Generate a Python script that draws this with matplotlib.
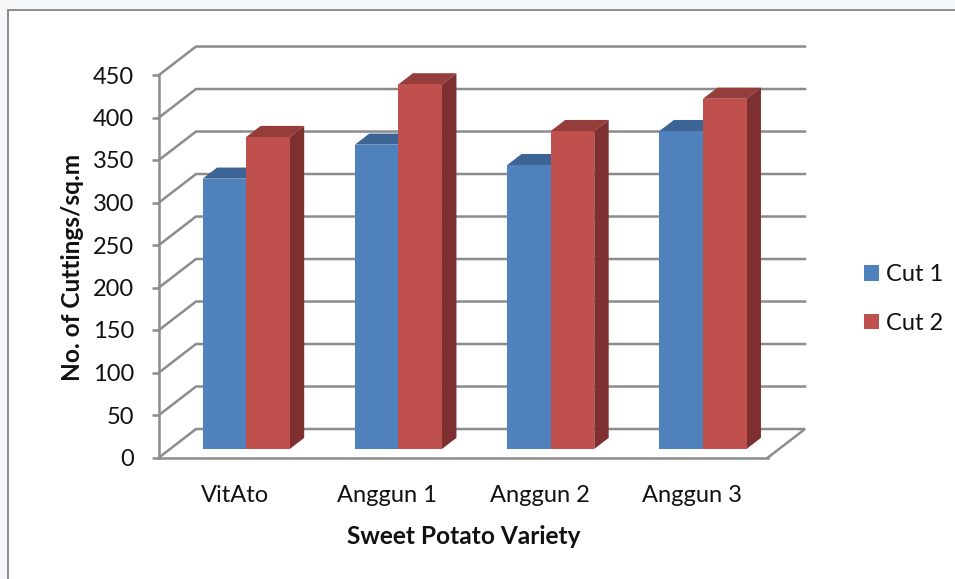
import matplotlib
matplotlib.use('Agg')
import matplotlib.pyplot as plt
from matplotlib.patches import Polygon, Patch, Rectangle

varieties = ['VitAto', 'Anggun 1', 'Anggun 2', 'Anggun 3']
cut_1 = [318, 358, 334, 374]
cut_2 = [367, 429, 374, 412]
y_ticks = [0, 50, 100, 150, 200, 250, 300, 350, 400, 450]

W, H = 955, 579
GREY = '#8C8C8C'
TEXT = '#111111'
BLUE = ('#4F81BD', '#3C6494', '#34557E')
RED = ('#C0504D', '#953D3B', '#7D302F')

# oblique offset of the chart floor, in axis units
DEPTH_X = 37 / 152.25
DEPTH_Y = 33.5
BAR_W = 0.286
BAR_START = 0.30
BAR_DEPTH = 0.39

plt.rcParams['font.family'] = ['Lato', 'DejaVu Sans']

fig = plt.figure(figsize=(W / 100, H / 100), dpi=100, facecolor='#F5F7F9')
fig.add_artist(Rectangle((8 / W, -0.1), 1.1, 1.1 - 10 / H,
                         transform=fig.transFigure, facecolor='white',
                         edgecolor=GREY, linewidth=1.4, zorder=-1))

ax = fig.add_axes([159 / W, 1 - 457.5 / H, 609 / W, 382.5 / H])
ax.patch.set_visible(False)
ax.set_xlim(0, 4)
ax.set_ylim(0, 450)


def draw_bar(x0, value, colors):
    # front face sits part way into the floor, side and top go further back
    x1 = x0 + BAR_W
    bx = BAR_START * DEPTH_X
    by = BAR_START * DEPTH_Y
    dx = BAR_DEPTH * DEPTH_X
    dy = BAR_DEPTH * DEPTH_Y
    base = by
    top = by + value
    faces = [
        ([(x0 + bx, top), (x1 + bx, top), (x1 + bx + dx, top + dy), (x0 + bx + dx, top + dy)], colors[1]),
        ([(x1 + bx, base), (x1 + bx + dx, base + dy), (x1 + bx + dx, top + dy), (x1 + bx, top)], colors[2]),
        ([(x0 + bx, base), (x1 + bx, base), (x1 + bx, top), (x0 + bx, top)], colors[0]),
    ]
    for pts, c in faces:
        ax.add_patch(Polygon(pts, closed=True, facecolor=c, edgecolor='none',
                             clip_on=False, zorder=3))


# walls and floor
for v in y_ticks:
    xs = [0, DEPTH_X, 4 + DEPTH_X]
    ys = [v, v + DEPTH_Y, v + DEPTH_Y]
    if v == 0:
        xs.append(4)
        ys.append(0)
    ax.plot(xs, ys, color=GREY, linewidth=1.8, clip_on=False, zorder=1,
            solid_joinstyle='miter')

for i in range(len(varieties)):
    center = i + 0.5
    draw_bar(center - BAR_W, cut_1[i], BLUE)
    draw_bar(center, cut_2[i], RED)

for side in ['top', 'right']:
    ax.spines[side].set_visible(False)
for side in ['left', 'bottom']:
    ax.spines[side].set_color(GREY)
    ax.spines[side].set_linewidth(1.8)

ax.set_yticks(y_ticks)
ax.set_xticks([i + 0.5 for i in range(len(varieties))])
ax.set_xticklabels(varieties)
ax.tick_params(axis='y', length=5, width=1.8, color=GREY, labelsize=17,
               labelcolor=TEXT, pad=13)
ax.tick_params(axis='x', length=0, labelsize=17, labelcolor=TEXT, pad=20)

ax.set_xlabel('Sweet Potato Variety', fontsize=17.6, fontweight='bold', color=TEXT)
ax.xaxis.set_label_coords((464 - 159) / 609, (457.5 - 536) / 382.5)
ax.xaxis.label.set_va('center')
ax.set_ylabel('No. of Cuttings/sq.m', fontsize=17.6, fontweight='bold', color=TEXT)
ax.yaxis.set_label_coords((73 - 159) / 609, (457.5 - 267) / 382.5)
ax.yaxis.label.set_va('center')

handles = [Patch(facecolor=BLUE[0], label='Cut 1'), Patch(facecolor=RED[0], label='Cut 2')]
fig.legend(handles=handles, loc='center left', bbox_to_anchor=(864 / W, 1 - 299 / H),
           frameon=False, fontsize=17, labelcolor=TEXT, borderpad=0, borderaxespad=0,
           handlelength=0.63, handleheight=0.63, handletextpad=0.3, labelspacing=1.15)

fig.savefig('out.png', dpi=100, facecolor=fig.get_facecolor())
